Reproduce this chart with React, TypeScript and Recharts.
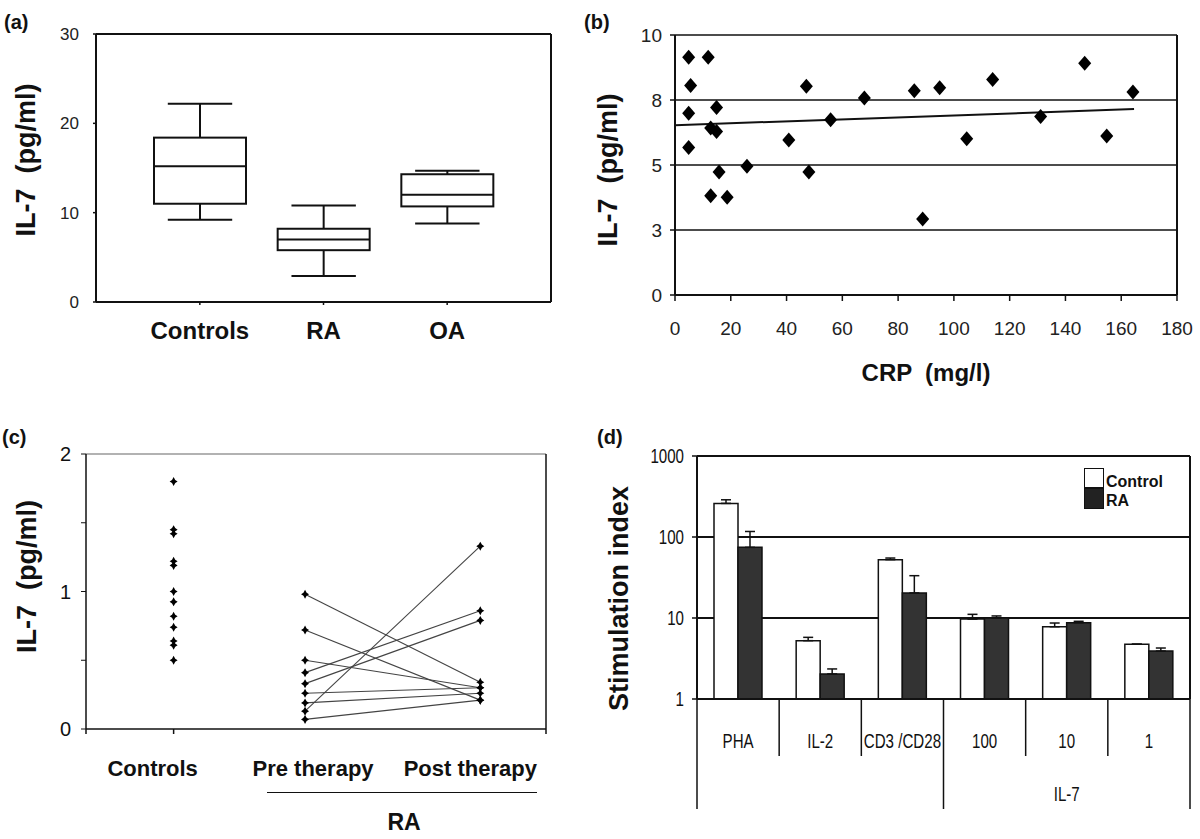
import React from "react";
import {
  Bar,
  CartesianGrid,
  ComposedChart,
  ErrorBar,
  Label,
  Line,
  Scatter,
  XAxis,
  YAxis,
} from "recharts";

const SANS = "'Liberation Sans', Arial, Helvetica, sans-serif";
const INK = "#111";

// (a) IL-7 box plots
const boxGroups = ["Controls", "RA", "OA"];
const boxMin = [9.2, 2.9, 8.8];
const boxQ1 = [11.0, 5.8, 10.7];
const boxMedian = [15.2, 7.0, 12.0];
const boxQ3 = [18.4, 8.2, 14.3];
const boxMax = [22.2, 10.8, 14.7];
const boxTicks = [0, 10, 20, 30];

// (b) IL-7 against CRP
const crpValues = [
  4.9, 5.6, 4.9, 4.9, 11.9, 12.8, 14.9, 14.9, 15.8, 12.8, 18.7, 25.8, 40.8,
  47.1, 48.0, 55.8, 67.9, 85.8, 88.8, 94.9, 104.6, 113.9, 131.1, 146.9, 154.8,
  164.2,
];
const crpIl7 = [
  9.14, 8.06, 6.99, 5.67, 9.14, 6.42, 7.21, 6.29, 4.73, 3.82, 3.76, 4.95, 5.96,
  8.03, 4.73, 6.74, 7.58, 7.86, 2.92, 7.97, 6.01, 8.29, 6.87, 8.91, 6.12, 7.81,
];
const trendCrp = [0, 164.6];
const trendIl7 = [6.53, 7.15];
const crpTicks = [0, 20, 40, 60, 80, 100, 120, 140, 160, 180];
const crpIl7Ticks = [0, 2.5, 5, 7.5, 10];

// (c) controls vs RA pre / post therapy
const controlIl7 = [1.8, 1.45, 1.42, 1.22, 1.19, 1.0, 0.925, 0.82, 0.74, 0.64, 0.61, 0.5];
const preTherapy = [0.98, 0.72, 0.5, 0.41, 0.33, 0.26, 0.19, 0.13, 0.07];
const postTherapy = [0.34, 0.21, 0.3, 0.86, 0.79, 0.3, 0.26, 1.33, 0.21];
const cNames = ["Controls", "Pre therapy", "Post therapy"];
const cPositions = [1, 2.5, 4.5];
const cDomainMax = 5.25;
const cYTicks = [0, 0.5, 1, 1.5, 2];

// (d) stimulation index
const stimCategories = ["PHA", "IL-2", "CD3 /CD28", "100", "10", "1"];
const stimGroups = ["", "", "", "IL-7", "IL-7", "IL-7"];
const controlSI = [260, 5.25, 52.5, 9.7, 7.8, 4.75];
const controlSITop = [288, 5.77, 55, 11.1, 8.67, 4.75];
const raSI = [74.5, 2.04, 20.4, 10.0, 8.75, 3.91];
const raSITop = [117, 2.35, 33.3, 10.6, 9.1, 4.26];
const stimTicks = [1, 10, 100, 1000];

const boxData = boxGroups.map((name, i) => ({
  name,
  range: [boxMin[i], boxMax[i]],
  min: boxMin[i],
  q1: boxQ1[i],
  median: boxMedian[i],
  q3: boxQ3[i],
  max: boxMax[i],
}));
const crpPoints = crpValues.map((x, i) => ({ x, y: crpIl7[i] }));
const trendData = trendCrp.map((x, i) => ({ x, y: trendIl7[i] }));
const controlPoints = controlIl7.map((y) => ({ x: cPositions[0], y }));
const raPairs = preTherapy.map((pre, i) => [
  { x: cPositions[1], y: pre },
  { x: cPositions[2], y: postTherapy[i] },
]);
const stimData = stimCategories.map((name, i) => ({
  name,
  control: controlSI[i],
  controlErr: [0, controlSITop[i] - controlSI[i]],
  ra: raSI[i],
  raErr: [0, raSITop[i] - raSI[i]],
}));

function VTitle({ viewBox, value, x, dy = 0, size = 27 }: any) {
  const cy = viewBox.y + viewBox.height / 2 + dy;
  return (
    <text
      x={x}
      y={cy}
      transform={`rotate(-90, ${x}, ${cy})`}
      textAnchor="middle"
      dominantBaseline="central"
      fill={INK}
      style={{ fontFamily: SANS, fontWeight: 700, fontSize: size, whiteSpace: "pre" }}
    >
      {value}
    </text>
  );
}

function BoxShape(props: any) {
  const { x, y, width, height } = props;
  const d = props.payload ?? props;
  const ppu = height / (d.max - d.min);
  const py = (v: number) => y + (d.max - v) * ppu;
  const cx = x + width / 2;
  const cap = width * 0.35;
  return (
    <g stroke={INK} strokeWidth={2} fill="none">
      <line x1={cx} x2={cx} y1={py(d.max)} y2={py(d.q3)} />
      <line x1={cx - cap} x2={cx + cap} y1={py(d.max)} y2={py(d.max)} />
      <line x1={cx} x2={cx} y1={py(d.q1)} y2={py(d.min)} />
      <line x1={cx - cap} x2={cx + cap} y1={py(d.min)} y2={py(d.min)} />
      <rect x={x} y={py(d.q3)} width={width} height={py(d.q1) - py(d.q3)} fill="#fff" />
      <line x1={x} x2={x + width} y1={py(d.median)} y2={py(d.median)} />
    </g>
  );
}

function Diamond({ cx, cy }: any) {
  return (
    <polygon
      points={`${cx},${cy - 7.5} ${cx + 6.5},${cy} ${cx},${cy + 7.5} ${cx - 6.5},${cy}`}
      fill="#000"
    />
  );
}

function SmallMark({ cx, cy }: any) {
  return (
    <polygon
      points={`${cx},${cy - 4.5} ${cx + 1.6},${cy - 1.6} ${cx + 4},${cy} ${cx + 1.6},${cy + 1.6} ${cx},${cy + 4.5} ${cx - 1.6},${cy + 1.6} ${cx - 4},${cy} ${cx - 1.6},${cy - 1.6}`}
      fill="#000"
    />
  );
}

// condensed text like the original figure's narrow face
function NarrowText({ x, y, anchor = "middle", children }: any) {
  return (
    <text
      transform={`translate(${x},${y}) scale(0.72,1)`}
      textAnchor={anchor}
      dominantBaseline="central"
      fill={INK}
      style={{ fontFamily: SANS, fontSize: 21 }}
    >
      {children}
    </text>
  );
}

const cLabelShift: Record<string, number> = {
  Controls: -21,
  "Pre therapy": 8,
  "Post therapy": -10,
};

function CTick({ x, y, payload }: any) {
  const v = payload.value;
  const idx = cPositions.indexOf(v);
  const marked = v === 0 || v === cPositions[0] || v === cDomainMax;
  return (
    <g>
      {marked && <line x1={x} x2={x} y1={y} y2={y + 5} stroke={INK} strokeWidth={1.5} />}
      {idx >= 0 && (
        <text
          x={x + cLabelShift[cNames[idx]]}
          y={y + 47}
          textAnchor="middle"
          fill={INK}
          style={{ fontFamily: SANS, fontWeight: 700, fontSize: 22 }}
        >
          {cNames[idx]}
        </text>
      )}
    </g>
  );
}

function DTick({ x, y, payload, index }: any) {
  const half = payload.offset || 41;
  const i = index;
  const group = stimGroups[i];
  const leftLong = i === 0 || group !== stimGroups[i - 1];
  const last = i === stimCategories.length - 1;
  const first = stimGroups.indexOf(group);
  const lastOf = stimGroups.lastIndexOf(group);
  const mid = (first + lastOf) / 2;
  const showGroup = group !== "" && i === Math.floor(mid);
  return (
    <g>
      <line x1={x - half} x2={x - half} y1={y} y2={y + (leftLong ? 110 : 57)} stroke={INK} strokeWidth={1.5} />
      {last && <line x1={x + half} x2={x + half} y1={y} y2={y + 110} stroke={INK} strokeWidth={1.5} />}
      <NarrowText x={x} y={y + 42}>{payload.value}</NarrowText>
      {showGroup && (
        <NarrowText x={x + (mid - i) * half * 2} y={y + 95}>
          {group}
        </NarrowText>
      )}
    </g>
  );
}

function DYTick({ x, y, payload }: any) {
  return (
    <NarrowText x={x} y={y} anchor="end">
      {payload.value}
    </NarrowText>
  );
}

const panelLabel = (left: number, top: number): React.CSSProperties => ({
  position: "absolute",
  left,
  top,
  fontFamily: SANS,
  fontWeight: 700,
  fontSize: 20,
  color: INK,
  lineHeight: "22px",
});

const axisLine = { stroke: INK, strokeWidth: 2 };

export default function App() {
  return (
    <div
      style={{
        position: "absolute",
        left: 0,
        top: 0,
        width: 1200,
        height: 839,
        background: "#fff",
        overflow: "hidden",
      }}
    >
      {/* (a) */}
      <div style={{ position: "absolute", left: 0, top: 0 }}>
        <ComposedChart width={560} height={345} data={boxData} margin={{ top: 33, right: 8, left: 0, bottom: 0 }}>
          <XAxis
            dataKey="name"
            height={43}
            interval={0}
            padding={{ left: 42, right: 42 }}
            axisLine={axisLine}
            tickLine={{ stroke: INK, strokeWidth: 1.5 }}
            tickSize={3}
            tickMargin={17}
            tick={{ fill: INK, fontFamily: SANS, fontWeight: 700, fontSize: 24 }}
          />
          <XAxis xAxisId="top" orientation="top" dataKey="name" height={1} tick={false} tickLine={false} axisLine={axisLine} />
          <YAxis
            domain={[0, 30]}
            ticks={boxTicks}
            interval={0}
            width={96}
            axisLine={axisLine}
            tickLine={{ stroke: INK, strokeWidth: 1.5 }}
            tickSize={3}
            tickMargin={14}
            tick={{ fill: "#222", fontFamily: SANS, fontSize: 17 }}
          >
            <Label content={(p: any) => <VTitle viewBox={p.viewBox} value="IL-7  (pg/ml)" x={26} dy={-8} />} />
          </YAxis>
          <YAxis yAxisId="right" orientation="right" type="number" domain={[0, 1]} width={1} tick={false} tickLine={false} axisLine={axisLine} />
          <Bar dataKey="range" barSize={92} shape={<BoxShape />} isAnimationActive={false} />
        </ComposedChart>
      </div>

      {/* (b) */}
      <div style={{ position: "absolute", left: 580, top: 0 }}>
        <ComposedChart width={620} height={390} margin={{ top: 35, right: 22, left: 0, bottom: 0 }}>
          <CartesianGrid vertical={false} stroke={INK} strokeWidth={1.5} />
          <XAxis
            type="number"
            dataKey="x"
            domain={[0, 180]}
            ticks={crpTicks}
            interval={0}
            height={95}
            axisLine={axisLine}
            tickLine={{ stroke: INK, strokeWidth: 1.5 }}
            tickSize={6}
            tickMargin={21}
            tick={{ fill: "#222", fontFamily: SANS, fontSize: 19 }}
          >
            <Label
              content={(p: any) => (
                <text
                  x={p.viewBox.x + p.viewBox.width / 2}
                  y={p.viewBox.y + 77}
                  textAnchor="middle"
                  dominantBaseline="central"
                  fill={INK}
                  style={{ fontFamily: SANS, fontWeight: 700, fontSize: 24, whiteSpace: "pre" }}
                >
                  CRP  (mg/l)
                </text>
              )}
            />
          </XAxis>
          <YAxis
            type="number"
            dataKey="y"
            domain={[0, 10]}
            ticks={crpIl7Ticks}
            interval={0}
            tickFormatter={(v: number) => String(Math.round(v))}
            width={95}
            axisLine={axisLine}
            tickLine={{ stroke: INK, strokeWidth: 1.5 }}
            tickSize={5}
            tickMargin={8}
            tick={{ fill: "#222", fontFamily: SANS, fontSize: 19 }}
          >
            <Label content={(p: any) => <VTitle viewBox={p.viewBox} value="IL-7  (pg/ml)" x={28} dy={5} />} />
          </YAxis>
          <YAxis yAxisId="right" orientation="right" type="number" domain={[0, 1]} width={1} tick={false} tickLine={false} axisLine={axisLine} />
          <Line data={trendData} dataKey="y" type="linear" dot={false} stroke={INK} strokeWidth={2} isAnimationActive={false} />
          <Scatter data={crpPoints} dataKey="y" shape={<Diamond />} isAnimationActive={false} />
        </ComposedChart>
      </div>

      {/* (c) */}
      <div style={{ position: "absolute", left: 0, top: 430 }}>
        <ComposedChart width={580} height={409} margin={{ top: 23, right: 33, left: 0, bottom: 0 }}>
          <XAxis
            type="number"
            dataKey="x"
            domain={[0, cDomainMax]}
            ticks={[0, ...cPositions, cDomainMax]}
            interval={0}
            height={110}
            axisLine={{ stroke: INK, strokeWidth: 1.5 }}
            tickLine={false}
            tickSize={0}
            tickMargin={0}
            tick={<CTick />}
          />
          <XAxis xAxisId="top" orientation="top" type="number" domain={[0, cDomainMax]} height={1} tick={false} tickLine={false} axisLine={{ stroke: "#666", strokeWidth: 1.2 }} />
          <YAxis
            type="number"
            dataKey="y"
            domain={[0, 2]}
            ticks={cYTicks}
            interval={0}
            tickFormatter={(v: number) => (Number.isInteger(v) ? String(v) : "")}
            width={86}
            axisLine={{ stroke: INK, strokeWidth: 1.5 }}
            tickLine={{ stroke: INK, strokeWidth: 1 }}
            tickSize={5}
            tickMargin={10}
            tick={{ fill: INK, fontFamily: SANS, fontSize: 20 }}
          >
            <Label content={(p: any) => <VTitle viewBox={p.viewBox} value="IL-7  (pg/ml)" x={27} dy={-15} />} />
          </YAxis>
          <YAxis yAxisId="right" orientation="right" type="number" domain={[0, 1]} width={1} tick={false} tickLine={false} axisLine={{ stroke: INK, strokeWidth: 1.5 }} />
          {raPairs.map((pair, i) => (
            <Line
              key={i}
              data={pair}
              dataKey="y"
              type="linear"
              stroke="#444"
              strokeWidth={1.1}
              dot={(p: any) => <SmallMark key={`m${i}-${p.index}`} cx={p.cx} cy={p.cy} />}
              isAnimationActive={false}
            />
          ))}
          <Scatter data={controlPoints} dataKey="y" shape={<SmallMark />} isAnimationActive={false} />
        </ComposedChart>
      </div>

      {/* (d) */}
      <div style={{ position: "absolute", left: 580, top: 430 }}>
        <ComposedChart
          width={620}
          height={409}
          data={stimData}
          margin={{ top: 26, right: 9, left: 0, bottom: 0 }}
          barCategoryGap={17}
          barGap={0}
        >
          <CartesianGrid vertical={false} stroke={INK} strokeWidth={1.8} />
          <XAxis
            dataKey="name"
            interval={0}
            height={140}
            axisLine={axisLine}
            tickLine={false}
            tickSize={0}
            tickMargin={0}
            tick={<DTick />}
          />
          <YAxis
            scale="log"
            domain={[1, 1000]}
            ticks={stimTicks}
            interval={0}
            allowDataOverflow
            width={117}
            axisLine={axisLine}
            tickLine={{ stroke: INK, strokeWidth: 1.5 }}
            tickSize={5}
            tickMargin={8}
            tick={<DYTick />}
          >
            <Label content={(p: any) => <VTitle viewBox={p.viewBox} value="Stimulation index" x={39} dy={21} />} />
          </YAxis>
          <YAxis yAxisId="right" orientation="right" type="number" domain={[0, 1]} width={1} tick={false} tickLine={false} axisLine={axisLine} />
          <Bar dataKey="control" fill="#fff" stroke={INK} strokeWidth={1.5} isAnimationActive={false}>
            <ErrorBar dataKey="controlErr" direction="y" width={5} stroke={INK} strokeWidth={1.5} />
          </Bar>
          <Bar dataKey="ra" fill="#333" stroke={INK} strokeWidth={1.5} isAnimationActive={false}>
            <ErrorBar dataKey="raErr" direction="y" width={5} stroke={INK} strokeWidth={1.5} />
          </Bar>
        </ComposedChart>
      </div>

      {/* legend (d) */}
      <div style={{ position: "absolute", left: 1084, top: 468, width: 18, height: 18, border: `1.5px solid ${INK}`, background: "#fff" }} />
      <div style={{ position: "absolute", left: 1084, top: 488, width: 18, height: 19, border: `1.5px solid ${INK}`, background: "#222" }} />
      <div style={{ position: "absolute", left: 1106, top: 472, fontFamily: SANS, fontWeight: 700, fontSize: 16, color: INK, lineHeight: "20px" }}>
        Control
      </div>
      <div style={{ position: "absolute", left: 1106, top: 491, fontFamily: SANS, fontWeight: 700, fontSize: 16, color: INK, lineHeight: "20px" }}>
        RA
      </div>

      {/* RA bracket (c) */}
      <div style={{ position: "absolute", left: 267, top: 792, width: 270, borderTop: `1.5px solid ${INK}` }} />
      <div style={{ position: "absolute", left: 344, top: 808, width: 120, textAlign: "center", fontFamily: SANS, fontWeight: 700, fontSize: 23, color: INK, lineHeight: "28px" }}>
        RA
      </div>

      <div style={panelLabel(4, 11)}>(a)</div>
      <div style={panelLabel(584, 11)}>(b)</div>
      <div style={panelLabel(2, 426)}>(c)</div>
      <div style={panelLabel(597, 426)}>(d)</div>
    </div>
  );
}
